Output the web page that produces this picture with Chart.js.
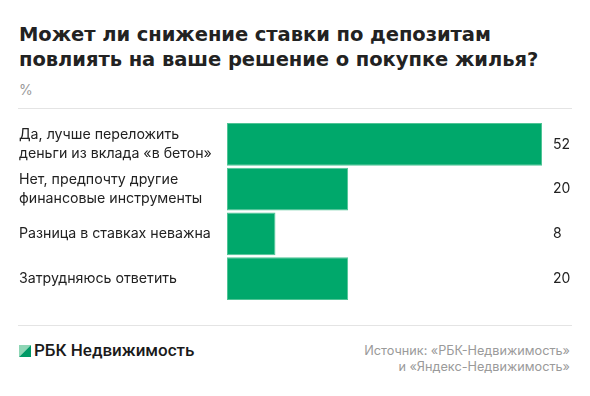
<!DOCTYPE html>
<html>
<head>
<meta charset="utf-8">
<script src="https://cdn.jsdelivr.net/npm/chart.js@4"></script>
<style>
  body { margin: 0; background: #fff; font-family: Inter, Roboto, sans-serif; }
  #wrap { position: relative; width: 590px; height: 396px; overflow: hidden; }
  .title { position: absolute; left: 19px; top: 22px; font-family: "DejaVu Sans", sans-serif; font-size: 19.5px; font-weight: 700; line-height: 25px; color: #222; letter-spacing: -0.05px; }
  .unit { position: absolute; left: 19px; top: 81px; font-size: 14px; color: #9a9a9a; }
  .rule { position: absolute; left: 18px; width: 554px; height: 1px; background: #e4e4e4; }
  #chart { position: absolute; left: 0; top: 110px; }
  .logo { position: absolute; left: 19px; top: 340px; font-family: Roboto, sans-serif; font-size: 17px; font-weight: 500; color: #1a1a1a; }
  .logo svg { vertical-align: -1px; margin-right: 3px; }
  .source { position: absolute; right: 20px; top: 343px; font-size: 12.7px; line-height: 16px; color: #9a9a9a; text-align: right; }
</style>
</head>
<body>
<div id="wrap">
  <div class="title">Может ли снижение ставки по депозитам<br>повлиять на ваше решение о покупке жилья?</div>
  <div class="unit">%</div>
  <div class="rule" style="top:108px"></div>
  <canvas id="chart" width="590" height="210"></canvas>
  <div class="rule" style="top:325px"></div>
  <div class="logo"><svg width="12" height="12" viewBox="0 0 12 12"><polygon points="0,0 12,0 0,12" fill="#8fd6b6"/><polygon points="12,0 12,12 0,12" fill="#009a66"/></svg>РБК Недвижимость</div>
  <div class="source">Источник: «РБК-Недвижимость»<br>и «Яндекс-Недвижимость»</div>
</div>
<script>
// answers (multi-line labels as arrays)
const answers = [
    ['Да, лучше переложить', 'деньги из вклада «в бетон»'],
    ['Нет, предпочту другие', 'финансовые инструменты'],
    'Разница в ставках неважна',
    'Затрудняюсь ответить'
];
const shares = [52, 20, 8, 20];

const valueLabels = {
    id: 'valueLabels',
    afterDatasetsDraw(chart) {
        const ctx = chart.ctx;
        const meta = chart.getDatasetMeta(0);
        ctx.save();
        ctx.font = '14px Inter';
        ctx.fillStyle = '#222';
        ctx.textAlign = 'left';
        ctx.textBaseline = 'middle';
        meta.data.forEach((bar, i) => {
            ctx.fillText(shares[i], chart.chartArea.right + 11, bar.y);
        });
        ctx.restore();
    }
};

new Chart(document.getElementById('chart').getContext('2d'), {
    type: 'bar',
    data: {
        labels: answers,
        datasets: [{
            data: shares,
            backgroundColor: '#00a86b',
            borderColor: '#4fc495',
            borderWidth: 1,
            borderSkipped: false,
            barPercentage: 0.958,
            categoryPercentage: 1
        }]
    },
    options: {
        indexAxis: 'y',
        responsive: false,
        animation: false,
        layout: { padding: { left: 19, right: 48, top: 12, bottom: 6 } },
        plugins: { legend: { display: false }, tooltip: { enabled: false } },
        scales: {
            x: { min: 0, max: 52, display: false },
            y: {
                grid: { display: false },
                border: { display: false },
                ticks: {
                    crossAlign: 'far',
                    color: '#222',
                    padding: 0,
                    font: { family: 'Inter', size: 14.2, lineHeight: 1.34 }
                },
                afterFit(scale) { scale.width = 208; }
            }
        }
    },
    plugins: [valueLabels]
});
</script>
</body>
</html>
